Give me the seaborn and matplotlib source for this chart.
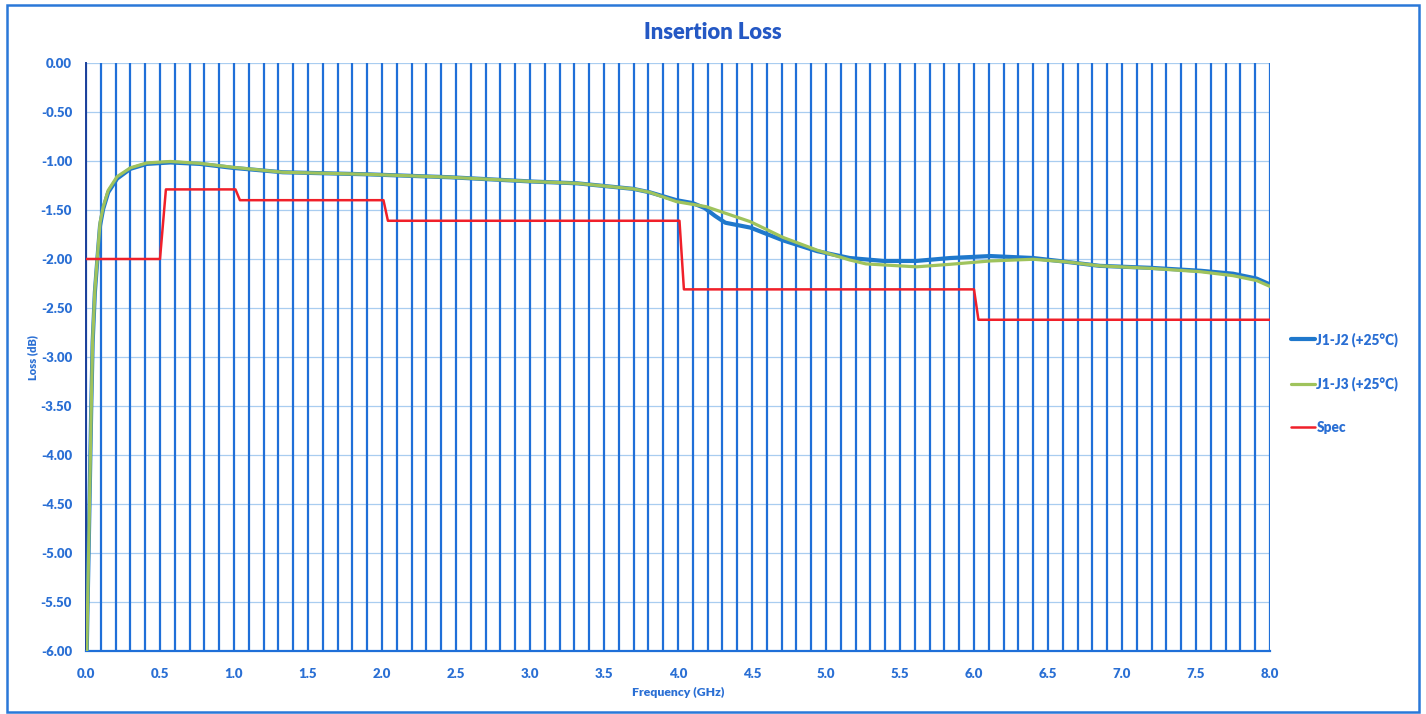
import pandas as pd
import matplotlib.pyplot as plt
import seaborn as sns
import numpy as np
from matplotlib.patches import Rectangle

# values
freq_j12 = [0.005, 0.02, 0.035, 0.045, 0.06, 0.077, 0.095, 0.116, 0.15, 0.21, 0.30, 0.41, 0.57, 0.77,
            0.99, 1.33, 1.90, 2.46, 3.02, 3.32, 3.70, 3.81, 3.99, 4.10, 4.18, 4.25, 4.32, 4.49, 4.71, 4.94,
            5.16, 5.39, 5.61, 5.84, 6.11, 6.40, 6.63, 6.85, 7.19, 7.53, 7.75, 7.91, 8.0]
loss_j12 = [-6.0, -4.8, -3.55, -2.85, -2.34, -2.0, -1.66, -1.49, -1.32, -1.18, -1.08, -1.03, -1.015, -1.03,
            -1.07, -1.115, -1.136, -1.166, -1.21, -1.228, -1.285, -1.32, -1.40, -1.43, -1.48, -1.56, -1.63, -1.68, -1.81, -1.92,
            -1.99, -2.02, -2.02, -1.99, -1.97, -1.99, -2.03, -2.07, -2.09, -2.12, -2.15, -2.20, -2.26]

freq_j13 = [0.005, 0.02, 0.035, 0.045, 0.06, 0.077, 0.095, 0.116, 0.15, 0.21, 0.30, 0.41, 0.57, 0.77,
            0.99, 1.33, 1.90, 2.46, 3.02, 3.32, 3.70, 3.81, 3.99, 4.19, 4.49, 4.71, 4.94, 5.16, 5.27,
            5.61, 5.84, 6.11, 6.40, 6.63, 6.85, 7.19, 7.53, 7.75, 7.91, 8.0]
loss_j13 = [-6.0, -4.8, -3.55, -2.83, -2.32, -1.98, -1.63, -1.47, -1.30, -1.16, -1.07, -1.02, -1.005, -1.024,
            -1.064, -1.115, -1.136, -1.166, -1.21, -1.228, -1.285, -1.32, -1.415, -1.466, -1.62, -1.78, -1.91, -2.01, -2.05,
            -2.08, -2.054, -2.02, -2.003, -2.03, -2.07, -2.095, -2.13, -2.17, -2.22, -2.28]

freq_spec = [0.0, 0.5, 0.54, 1.01, 1.04, 2.01, 2.04, 4.01, 4.04, 6.0, 6.03, 8.0]
loss_spec = [-2.0, -2.0, -1.29, -1.29, -1.40, -1.40, -1.61, -1.61, -2.31, -2.31, -2.62, -2.62]

x_ticks = np.arange(0, 8.01, 0.5)
y_ticks = np.arange(-6, 0.01, 0.5)

txt = '#2a6fd4'
sns.set_style('white')
plt.rcParams['font.family'] = ['Lato', 'DejaVu Sans']
plt.rcParams['axes.unicode_minus'] = False

fig = plt.figure(figsize=(14.26, 7.14), dpi=100)
ax = fig.add_axes([0.0603, 0.0882, 0.8303, 0.8236])

# Excel style grid: blue vertical every 0.1 GHz, pale horizontal every 0.5 dB
for v in np.arange(0, 8.01, 0.1):
    ax.axvline(v, color='#1f6fd8', lw=1.6, zorder=1)
for h in y_ticks:
    ax.axhline(h, color='#a9cdf0', lw=0.9, zorder=0.5)

df12 = pd.DataFrame({'f': freq_j12, 'loss': loss_j12})
df13 = pd.DataFrame({'f': freq_j13, 'loss': loss_j13})
dfs = pd.DataFrame({'f': freq_spec, 'loss': loss_spec})
sns.lineplot(data=df12, x='f', y='loss', ax=ax, color='#1f78cc', lw=3.0, sort=False, estimator=None,
             label='J1-J2 (+25°C)', zorder=3)
sns.lineplot(data=df13, x='f', y='loss', ax=ax, color='#9fc35c', lw=2.3, sort=False, estimator=None,
             label='J1-J3 (+25°C)', zorder=4)
sns.lineplot(data=dfs, x='f', y='loss', ax=ax, color='#f0202a', lw=1.8, sort=False, estimator=None,
             label='Spec', zorder=5)

ax.set_xlim(0, 8)
ax.set_ylim(-6, 0)
ax.set_xticks(x_ticks)
ax.set_xticklabels(['%.1f' % v for v in x_ticks])
ax.set_yticks(y_ticks)
ax.set_yticklabels(['%.2f' % v if v != 0 else '0.00' for v in y_ticks])
ax.tick_params(axis='both', length=0, labelcolor=txt, labelsize=9.5)
ax.tick_params(axis='x', pad=12)
ax.tick_params(axis='y', pad=10)
for t in ax.get_xticklabels() + ax.get_yticklabels():
    t.set_fontweight('heavy')
for s in ['top', 'right']:
    ax.spines[s].set_visible(False)
ax.spines['left'].set_color('#1a3f9a')
ax.spines['bottom'].set_color('#1f6fd8')
ax.spines['left'].set_linewidth(1.4)
ax.spines['bottom'].set_linewidth(1.6)

ax.set_xlabel('Frequency (GHz)', color=txt, fontsize=8.8, fontweight='heavy', labelpad=5)
ax.set_ylabel('Loss (dB)', color=txt, fontsize=8, fontweight='heavy', labelpad=2)
fig.text(0.5, 0.955, 'Insertion Loss', ha='center', va='center', color='#2458c4', fontsize=15.8, fontweight='heavy')

leg = ax.legend(loc='center left', bbox_to_anchor=(0.9050, 0.4636), bbox_transform=fig.transFigure,
                frameon=False, handlelength=1.8, handletextpad=0.1, labelspacing=2.2, fontsize=9.8,
                borderpad=0, borderaxespad=0)
for t in leg.get_texts():
    t.set_color(txt)
    t.set_fontweight('heavy')

fig.patches.append(Rectangle((0.005, 0.003), 0.99, 0.99, transform=fig.transFigure, fill=False,
                             edgecolor='#2a78d8', lw=1.8))

plt.savefig('out.png', dpi=100)
